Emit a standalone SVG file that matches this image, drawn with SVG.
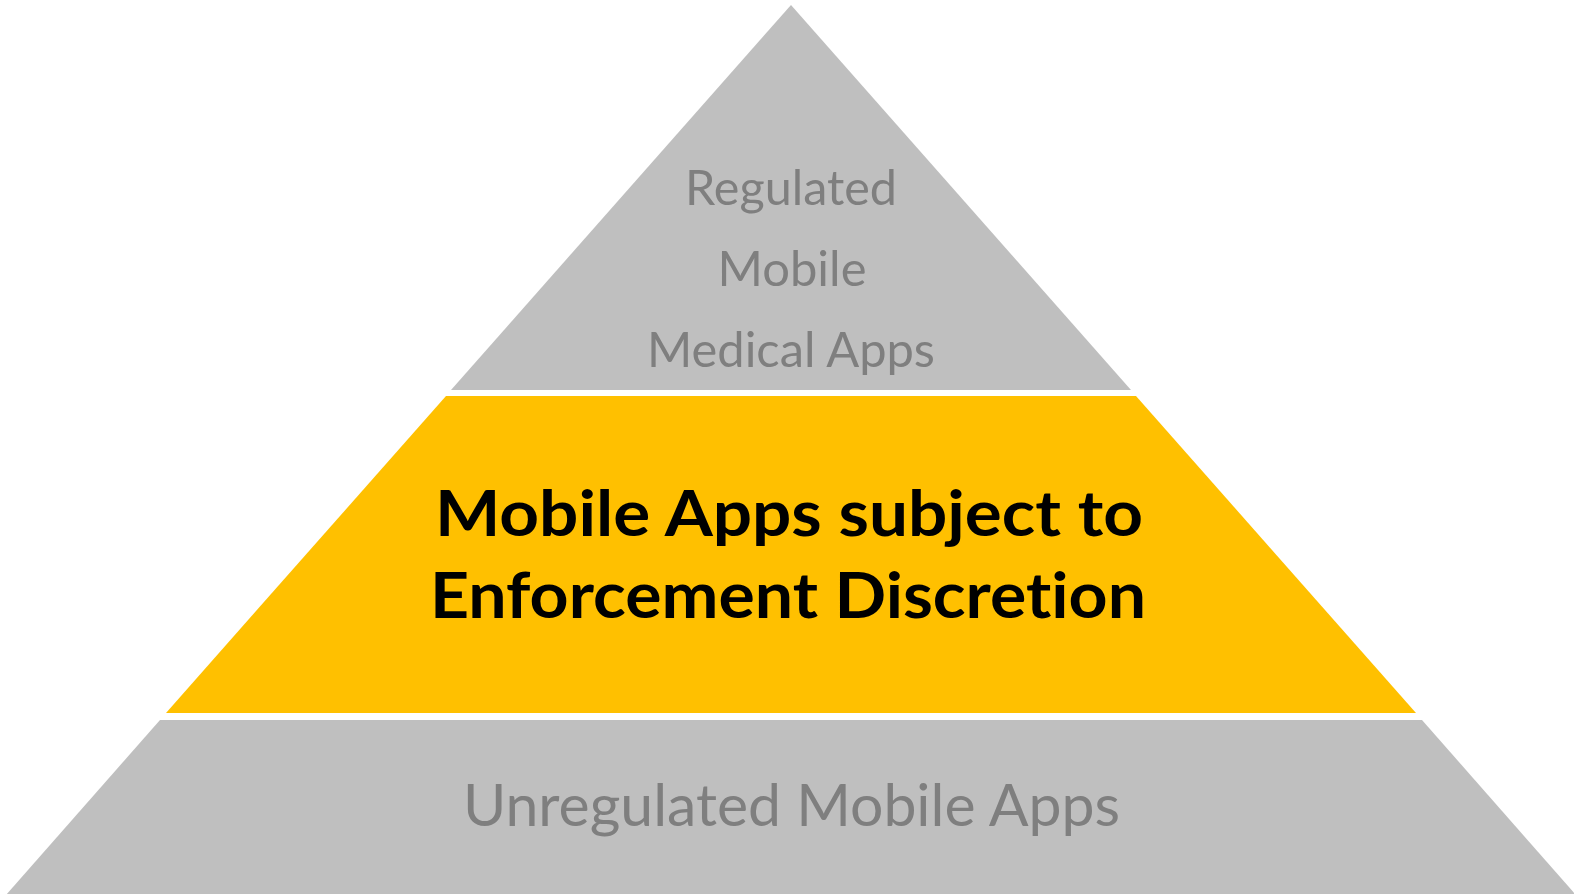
<svg xmlns="http://www.w3.org/2000/svg" width="1574" height="894" viewBox="0 0 1574 894">
<style>
.gray{fill:#BFBFBF}
.yellow{fill:#FFC000}
.lt{font-family:Lato,"Open Sans","Liberation Sans",sans-serif;fill:#7F7F7F;text-anchor:middle;font-variant-ligatures:none}
.bt{font-family:Lato,"Open Sans","Liberation Sans",sans-serif;font-weight:bold;fill:#000000;text-anchor:middle;font-variant-ligatures:none}
</style>
<rect width="1574" height="894" fill="#FFFFFF"/>
<g id="top-tier">
<polygon class="gray" points="791,5 1131,390 451,390"/>
<text class="lt" x="791" y="205" font-size="48" textLength="212" lengthAdjust="spacingAndGlyphs">Regulated</text>
<text class="lt" x="792" y="286" font-size="48" textLength="149" lengthAdjust="spacingAndGlyphs">Mobile</text>
<text class="lt" x="791" y="367" font-size="48" textLength="288" lengthAdjust="spacingAndGlyphs">Medical Apps</text>
</g>
<g id="middle-tier">
<polygon class="yellow" points="446,396 1136,396 1416,713 166,713"/>
<text class="bt" x="789" y="536" font-size="64" textLength="708" lengthAdjust="spacingAndGlyphs">Mobile Apps subject to</text>
<text class="bt" x="788" y="618" font-size="64" textLength="716" lengthAdjust="spacingAndGlyphs">Enforcement Discretion</text>
</g>
<g id="bottom-tier">
<polygon class="gray" points="160,720 1422,720 1576,895 6,895"/>
<text class="lt" x="791.5" y="826" font-size="59" textLength="657" lengthAdjust="spacingAndGlyphs">Unregulated Mobile Apps</text>
</g>
<g id="connectors"></g>
</svg>
